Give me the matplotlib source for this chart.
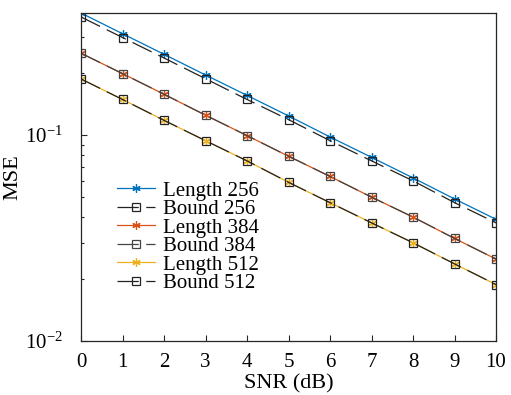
import matplotlib
matplotlib.use("Agg")
import matplotlib.pyplot as plt
from matplotlib.ticker import LogLocator, NullFormatter, FixedLocator

plt.rcParams['font.family'] = ['Liberation Serif', 'DejaVu Serif']
plt.rcParams['mathtext.fontset'] = 'custom'
plt.rcParams['mathtext.rm'] = 'Liberation Serif'
plt.rcParams['mathtext.it'] = 'Liberation Serif:italic'
plt.rcParams['mathtext.bf'] = 'Liberation Serif:bold'

snr = [0, 1, 2, 3, 4, 5, 6, 7, 8, 9, 10]
length_256 = [0.392, 0.311, 0.247, 0.196, 0.156, 0.124, 0.098, 0.078, 0.062, 0.049, 0.039]
bound_256 = [0.375, 0.298, 0.237, 0.188, 0.149, 0.119, 0.094, 0.075, 0.060, 0.047, 0.0375]
length_384 = [0.250, 0.199, 0.158, 0.125, 0.0995, 0.079, 0.063, 0.050, 0.040, 0.0315, 0.025]
bound_384 = [0.250, 0.199, 0.158, 0.125, 0.0995, 0.079, 0.063, 0.050, 0.040, 0.0315, 0.025]
length_512 = [0.1875, 0.149, 0.118, 0.094, 0.075, 0.059, 0.047, 0.0375, 0.030, 0.0237, 0.0188]
bound_512 = [0.1875, 0.149, 0.118, 0.094, 0.075, 0.059, 0.047, 0.0375, 0.030, 0.0237, 0.0188]
labels = ['Length 256', 'Bound 256', 'Length 384', 'Bound 384', 'Length 512', 'Bound 512']

blue = (0.0, 0.447, 0.741)
orange = (0.85, 0.325, 0.098)
yellow = (0.929, 0.694, 0.125)

fig = plt.figure(figsize=(5.11, 3.95), dpi=100)
ax = fig.add_axes([81/511, 1-341/395, (496-81)/511, (341-13)/395])

star = (6, 2, 0)
dash = (17, 6)
series = [
    (length_256, dict(color=blue, marker=star, ls='-')),
    (bound_256, dict(color='#222222', marker='s', ls='--', dashes=dash, mfc='none')),
    (length_384, dict(color=orange, marker=star, ls='-')),
    (bound_384, dict(color='#444444', marker='s', ls='--', dashes=dash, mfc='none')),
    (length_512, dict(color=yellow, marker=star, ls='-')),
    (bound_512, dict(color='#222222', marker='s', ls='--', dashes=dash, mfc='none')),
]
for (vals, kw), lab in zip(series, labels):
    ax.plot(snr, vals, lw=0.9, ms=6, mew=0.9, label=lab, **kw)

ax.set_yscale('log')
ax.set_xlim(0, 10)
ax.set_ylim(0.01, 0.392)
ax.set_xticks(snr)
ax.yaxis.set_major_locator(FixedLocator([0.01, 0.1]))
ax.yaxis.set_minor_locator(LogLocator(base=10, subs=range(2, 10), numticks=20))
ax.yaxis.set_minor_formatter(NullFormatter())
ax.tick_params(which='both', direction='in', top=False, right=False, labelsize=15, width=0.8, color='#262626')
ax.tick_params(which='major', length=4)
ax.tick_params(which='minor', length=2.5)
ax.tick_params(axis='x', pad=8.5)
ax.tick_params(axis='y', pad=13)
for s in ax.spines.values():
    s.set_linewidth(0.9)
    s.set_color('#262626')

ax.set_xlabel('SNR (dB)', fontsize=16, labelpad=2)
ax.set_ylabel('MSE', fontsize=16)
ax.yaxis.set_label_coords(-59/415, 0.5)

leg = ax.legend(loc='upper left', bbox_to_anchor=(117/511, 1-181/395), bbox_transform=fig.transFigure,
                frameon=False, fontsize=15, borderpad=0, borderaxespad=0,
                handlelength=1.82, handletextpad=0.38, labelspacing=-0.05)

fig.savefig('out.png', dpi=100)
